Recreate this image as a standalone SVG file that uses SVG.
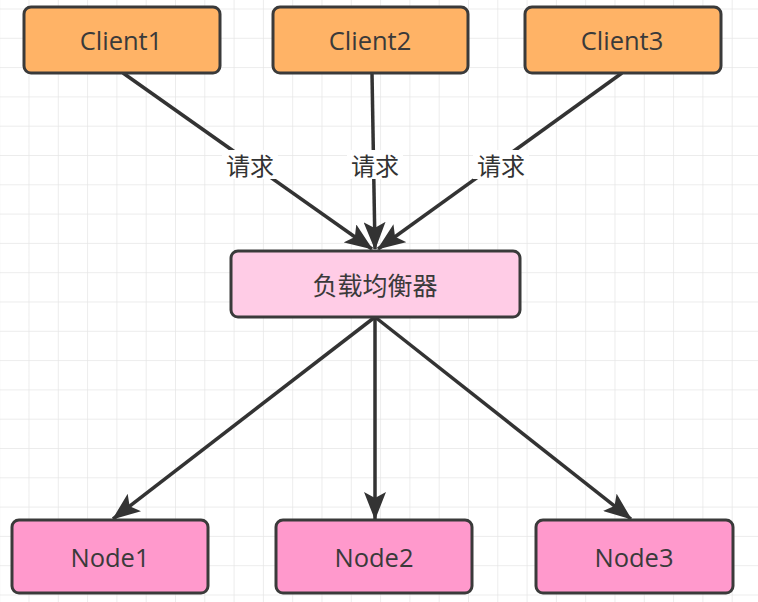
<svg xmlns="http://www.w3.org/2000/svg" width="758" height="602" viewBox="0 0 758 602">
<style>
.box{stroke:#3a3a3a;stroke-width:3}
.client{fill:#FFB366}
.lb{fill:#FFCCE6}
.node{fill:#FF99CC}
.t{font-family:"Open Sans","Noto Sans CJK SC",sans-serif;font-size:25.5px;fill:#3a3a3a;text-anchor:middle;dominant-baseline:central}
.cjk{font-family:"Noto Sans CJK SC",sans-serif;font-size:25px}
.lbl{font-family:"Noto Sans CJK SC",sans-serif;font-size:24px;fill:#333;text-anchor:middle;dominant-baseline:central}
.edge{stroke:#333;stroke-width:3.5;fill:none}
</style>
<defs>
<pattern id="grid" x="28.5" y="8.5" width="29.3" height="29.3" patternUnits="userSpaceOnUse">
<path d="M0,0 H29.3 M0,0 V29.3" stroke="#e6e6e6" stroke-width="1.5" fill="none"/>
</pattern>
<marker id="arr" viewBox="0 0 28 22" refX="27" refY="11" markerWidth="28" markerHeight="22" markerUnits="userSpaceOnUse" orient="auto">
<path d="M0,0 L28,11 L0,22 L6,11 Z" fill="#333"/>
</marker>
</defs>
<rect width="758" height="602" fill="#fff"/>
<rect width="758" height="602" fill="url(#grid)"/>
<g id="connectors">
<line class="edge" x1="123" y1="73" x2="372" y2="249" marker-end="url(#arr)"/>
<line class="edge" x1="372" y1="73" x2="375" y2="249" marker-end="url(#arr)"/>
<line class="edge" x1="622" y1="73" x2="378" y2="249" marker-end="url(#arr)"/>
<line class="edge" x1="375" y1="317" x2="113" y2="519" marker-end="url(#arr)"/>
<line class="edge" x1="375" y1="317" x2="375" y2="519" marker-end="url(#arr)"/>
<line class="edge" x1="375" y1="317" x2="631" y2="519" marker-end="url(#arr)"/>
<rect x="222" y="150" width="56" height="29" fill="#fff"/>
<text class="lbl" x="250" y="164">请求</text>
<rect x="347" y="150" width="56" height="29" fill="#fff"/>
<text class="lbl" x="375" y="164">请求</text>
<rect x="473" y="150" width="56" height="29" fill="#fff"/>
<text class="lbl" x="501" y="164">请求</text>
</g>
<g id="client1"><rect class="box client" x="24" y="7" width="196" height="66" rx="7"/><text class="t" x="121" y="40">Client1</text></g>
<g id="client2"><rect class="box client" x="273" y="7" width="195" height="66" rx="7"/><text class="t" x="370" y="40">Client2</text></g>
<g id="client3"><rect class="box client" x="525" y="7" width="196" height="66" rx="7"/><text class="t" x="622" y="40">Client3</text></g>
<g id="lb"><rect class="box lb" x="231" y="251" width="289" height="66" rx="7"/><text class="t cjk" x="375" y="284">负载均衡器</text></g>
<g id="node1"><rect class="box node" x="12" y="520" width="196" height="73" rx="7"/><text class="t" x="110" y="557">Node1</text></g>
<g id="node2"><rect class="box node" x="276" y="520" width="196" height="73" rx="7"/><text class="t" x="374" y="557">Node2</text></g>
<g id="node3"><rect class="box node" x="536" y="520" width="197" height="73" rx="7"/><text class="t" x="634" y="557">Node3</text></g>
</svg>
